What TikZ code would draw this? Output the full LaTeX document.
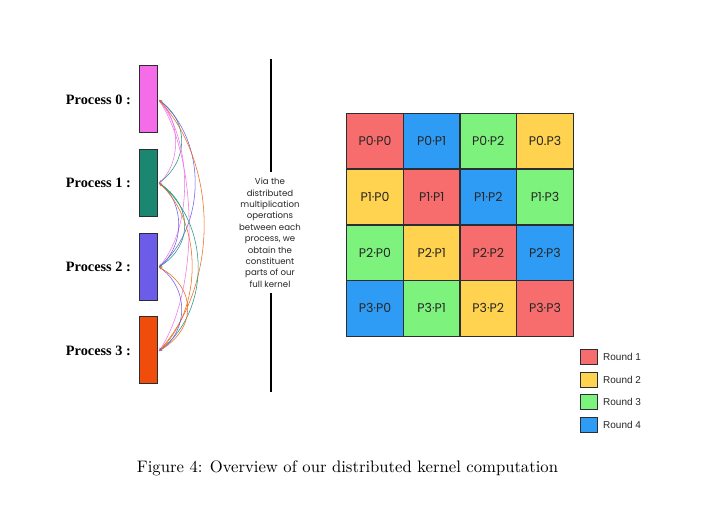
\documentclass[tikz,border=0pt]{standalone}
\usepackage{fontspec}
\usepackage{graphicx}
\setmainfont{Latin Modern Roman}
\newfontfamily\procfont{Liberation Serif}
\newfontfamily\popfont{Poppins}
\newfontfamily\legfont{Liberation Sans}
\usetikzlibrary{arrows.meta}
\definecolor{pinkbar}{HTML}{F56CE9}
\definecolor{tealbar}{HTML}{1B8770}
\definecolor{purpbar}{HTML}{6C5CE8}
\definecolor{orgbar}{HTML}{F04C0C}
\definecolor{cred}{HTML}{F76C6C}
\definecolor{cblue}{HTML}{2E9CF4}
\definecolor{cgreen}{HTML}{7DF27D}
\definecolor{cyel}{HTML}{FFD24F}
\definecolor{edgec}{HTML}{2A2E33}
\definecolor{pinkln}{HTML}{EE77E6}
\definecolor{tealln}{HTML}{1F9A80}
\definecolor{purpln}{HTML}{6E62E6}
\definecolor{orgln}{HTML}{F06A1E}
\tikzset{
  procbar/.style={draw=edgec, line width=0.9pt, minimum width=18pt, minimum height=67pt, inner sep=0pt},
  proclabel/.style={anchor=east, inner sep=0pt, font=\procfont\bfseries\fontsize{14.3}{16}\selectfont},
  cellbox/.style={draw=edgec, line width=1.2pt, minimum width=56.65pt, minimum height=55.7pt, inner sep=0pt, text=black!85, font=\popfont\fontsize{12.5}{14}\selectfont},
  legbox/.style={draw=edgec, line width=0.9pt, minimum width=17pt, minimum height=15pt, inner sep=0pt},
  legtext/.style={anchor=west, inner sep=0pt, font=\legfont\fontsize{10}{12}\selectfont, text=black!85},
  arcln/.style={line width=0.55pt, -{Stealth[length=3.4pt,width=2.8pt]}},
}
\begin{document}
\begin{tikzpicture}[x=1pt,y=-1pt]
\useasboundingbox (0,0) rectangle (713,505);
\fill[white] (0,0) rectangle (713,505);
% process bars
\node[procbar, fill=pinkbar] (b0) at (148,99) {};
\node[procbar, fill=tealbar] (b1) at (148,182.5) {};
\node[procbar, fill=purpbar] (b2) at (148,266.5) {};
\node[procbar, fill=orgbar] (b3) at (148,349.5) {};
\node[proclabel] (l0) at (131,100) {Process 0 :};
\node[proclabel] (l1) at (131,183) {Process 1 :};
\node[proclabel] (l2) at (131,267) {Process 2 :};
\node[proclabel] (l3) at (131,351) {Process 3 :};
\coordinate (a0) at (159,100);
\coordinate (a1) at (159,183);
\coordinate (a2) at (159,267);
\coordinate (a3) at (159,351);
% arcs
\draw[arcln, pinkln] (a0) .. controls +(22,20) and +(22,-20) .. (a1);
\draw[arcln, tealln] (a1) .. controls +(30,-22) and +(30,22) .. (a0);
\draw[arcln, pinkln] (a0) .. controls +(34,40) and +(34,-40) .. (a2);
\draw[arcln, purpln] (a2) .. controls +(48,-40) and +(48,40) .. (a0);
\draw[arcln, pinkln] (a0) .. controls +(40,60) and +(40,-60) .. (a3);
\draw[arcln, orgln] (a3) .. controls +(60,-65) and +(60,65) .. (a0);
\draw[arcln, tealln] (a1) .. controls +(34,22) and +(34,-22) .. (a2);
\draw[arcln, purpln] (a2) .. controls +(26,-20) and +(26,20) .. (a1);
\draw[arcln, tealln] (a1) .. controls +(52,40) and +(52,-40) .. (a3);
\draw[arcln, orgln] (a3) .. controls +(44,-40) and +(44,40) .. (a1);
\draw[arcln, purpln] (a2) .. controls +(30,20) and +(30,-20) .. (a3);
\draw[arcln, orgln] (a3) .. controls +(38,-22) and +(38,22) .. (a2);
% middle text and divider
\node[inner sep=0pt, align=center, text=black!85, font=\popfont\fontsize{8.6}{11.4}\selectfont] (mid) at (270,232.8)
 {Via the\\distributed\\multiplication\\operations\\between each\\process, we\\obtain the\\constituent\\parts of our\\full kernel};
\coordinate (lt) at (270.5,59);
\coordinate (lm1) at (270.5,172);
\coordinate (lm2) at (270.5,293);
\coordinate (lb) at (270.5,392);
\draw[line width=2pt] (lt) -- (lm1);
\draw[line width=2pt] (lm2) -- (lb);
% grid
\node[cellbox, fill=cred]   (c00) at (375,141.2) {P0·P0};
\node[cellbox, fill=cblue]  (c01) at (431.7,141.2) {P0·P1};
\node[cellbox, fill=cgreen] (c02) at (488.3,141.2) {P0·P2};
\node[cellbox, fill=cyel]   (c03) at (545,141.2) {P0.P3};
\node[cellbox, fill=cyel]   (c10) at (375,197) {P1·P0};
\node[cellbox, fill=cred]   (c11) at (431.7,197) {P1·P1};
\node[cellbox, fill=cblue]  (c12) at (488.3,197) {P1·P2};
\node[cellbox, fill=cgreen] (c13) at (545,197) {P1·P3};
\node[cellbox, fill=cgreen] (c20) at (375,252.8) {P2·P0};
\node[cellbox, fill=cyel]   (c21) at (431.7,252.8) {P2·P1};
\node[cellbox, fill=cred]   (c22) at (488.3,252.8) {P2·P2};
\node[cellbox, fill=cblue]  (c23) at (545,252.8) {P2·P3};
\node[cellbox, fill=cblue]  (c30) at (375,308.4) {P3·P0};
\node[cellbox, fill=cgreen] (c31) at (431.7,308.4) {P3·P1};
\node[cellbox, fill=cyel]   (c32) at (488.3,308.4) {P3·P2};
\node[cellbox, fill=cred]   (c33) at (545,308.4) {P3·P3};
% legend
\node[legbox, fill=cred]   (k1) at (589.3,357) {};
\node[legbox, fill=cyel]   (k2) at (589.3,379.7) {};
\node[legbox, fill=cgreen] (k3) at (589.3,402.3) {};
\node[legbox, fill=cblue]  (k4) at (589.3,425) {};
\node[legtext] (t1) at (603,357) {Round 1};
\node[legtext] (t2) at (603,379.7) {Round 2};
\node[legtext] (t3) at (603,402.3) {Round 3};
\node[legtext] (t4) at (603,425) {Round 4};
% caption
\node[inner sep=0pt] (cap) at (347.5,468) {\resizebox{421pt}{!}{Figure 4: Overview of our distributed kernel computation}};
\end{tikzpicture}
\end{document}
